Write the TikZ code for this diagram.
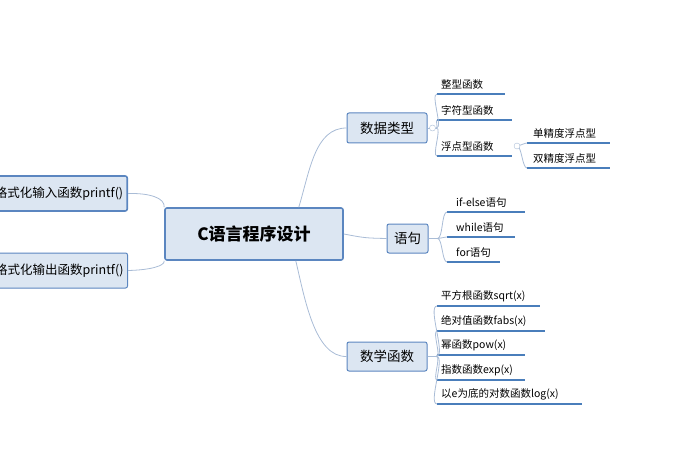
\documentclass[tikz,border=0pt]{standalone}
\usepackage{fontspec}
\setmainfont{Noto Sans CJK SC}
\usetikzlibrary{positioning,calc}
\definecolor{boxfill}{HTML}{DCE6F2}
\definecolor{boxline}{HTML}{5B86C0}
\definecolor{branch}{HTML}{A9BCD6}
\definecolor{uline}{HTML}{4A7EBB}
\tikzset{
  topic/.style={shape=rectangle,draw=boxline,fill=boxfill,rounded corners=2pt,line width=1pt,inner sep=0pt,font=\fontsize{13.5}{16}\selectfont},
  leaf/.style={anchor=south west,inner xsep=4pt,inner ysep=4pt,font=\fontsize{10.5}{12}\selectfont},
  link/.style={draw=branch,line width=0.8pt},
  knob/.style={shape=circle,draw=branch,fill=white,inner sep=0pt,minimum size=6pt},
}
\begin{document}
\begin{tikzpicture}[x=1pt,y=-1pt]
	\useasboundingbox (0,0) rectangle (700,470);
	% main topics
	\node (root)[topic,line width=1.6pt,minimum width=178pt,minimum height=52pt,font=\fontsize{17}{20}\selectfont\bfseries] at (254,234) {C语言程序设计};
	\node (in)[topic,line width=1.6pt,anchor=east,minimum height=35pt,inner xsep=4pt,font=\fontsize{12.5}{15}\selectfont] at (128,193.5) {格式化输入函数printf()};
	\node (out)[topic,anchor=east,minimum height=35pt,inner xsep=4pt,font=\fontsize{12.5}{15}\selectfont] at (128,270.5) {格式化输出函数printf()};
	\node (type)[topic,minimum width=80pt,minimum height=30pt] at (387,128) {数据类型};
	\node (stmt)[topic,minimum width=41pt,minimum height=29pt] at (407.5,238.5) {语句};
	\node (math)[topic,minimum width=80pt,minimum height=29pt] at (387,356.5) {数学函数};

	% leaves
	\node (t1)[leaf] at (437,94) {整型函数};
	\node (t2)[leaf] at (437,120) {字符型函数};
	\node (t3)[leaf] at (437,156) {浮点型函数};
	\node (f1)[leaf,inner xsep=6pt] at (527,143) {单精度浮点型};
	\node (f2)[leaf,inner xsep=6pt] at (527,168) {双精度浮点型};
	\node (s1)[leaf,inner xsep=9pt] at (447,212) {if-else语句};
	\node (s2)[leaf,inner xsep=9pt] at (447,237) {while语句};
	\node (s3)[leaf,inner xsep=9pt] at (447,262) {for语句};
	\node (m1)[leaf] at (437,306) {平方根函数sqrt(x)};
	\node (m2)[leaf] at (437,331) {绝对值函数fabs(x)};
	\node (m3)[leaf] at (437,355) {幂函数pow(x)};
	\node (m4)[leaf] at (437,380) {指数函数exp(x)};
	\node (m5)[leaf] at (437,404) {以e为底的对数函数log(x)};

	% underlines
	\foreach \n/\w in {t1/68,t2/75,t3/75,f1/83,f2/83,s1/78,s2/68,s3/53,m1/103,m2/108,m3/88,m4/88,m5/145}
		\draw[uline,line width=1.2pt] (\n.south west) -- ++(\w,0);

	% connect the topics
	\draw[link] (root.north east) ++(-45,0) .. controls (310,170) and (315,128) .. (type.west);
	\draw[link] (root.east) .. controls (365,238) .. (stmt.west);
	\draw[link] (root.south east) ++(-48,0) .. controls (305,300) and (315,357) .. (math.west);
	\draw[link] (in.east) .. controls (150,193) and (165,198) .. (root.north west);
	\draw[link] (out.east) .. controls (150,270) and (165,266) .. (root.south west);

	% connect the leaves
	\foreach \n in {t1,t2,t3}
		\draw[link] (type.east) ++(9,0) to[out=0,in=180,looseness=0.5] (\n.south west);
	\foreach \n in {f1,f2}
		\draw[link] (517,146) to[out=0,in=180,looseness=0.5] (\n.south west);
	\foreach \n in {s1,s2,s3}
		\draw[link] (stmt.east) ++(9,0) to[out=0,in=180,looseness=0.5] (\n.south west);
	\foreach \n in {m1,m2,m3,m4,m5}
		\draw[link] (math.east) ++(9,0) to[out=0,in=180,looseness=0.5] (\n.south west);
	\draw[link] (type.east) -- ++(9,0);
	\draw[link] (stmt.east) -- ++(9,0);
	\draw[link] (math.east) -- ++(9,0);

	% collapse knobs
	\node (k1)[knob] at ($(type.east)+(5,0)$) {};
	\node (k2)[knob] at (517,146) {};
\end{tikzpicture}
\end{document}
